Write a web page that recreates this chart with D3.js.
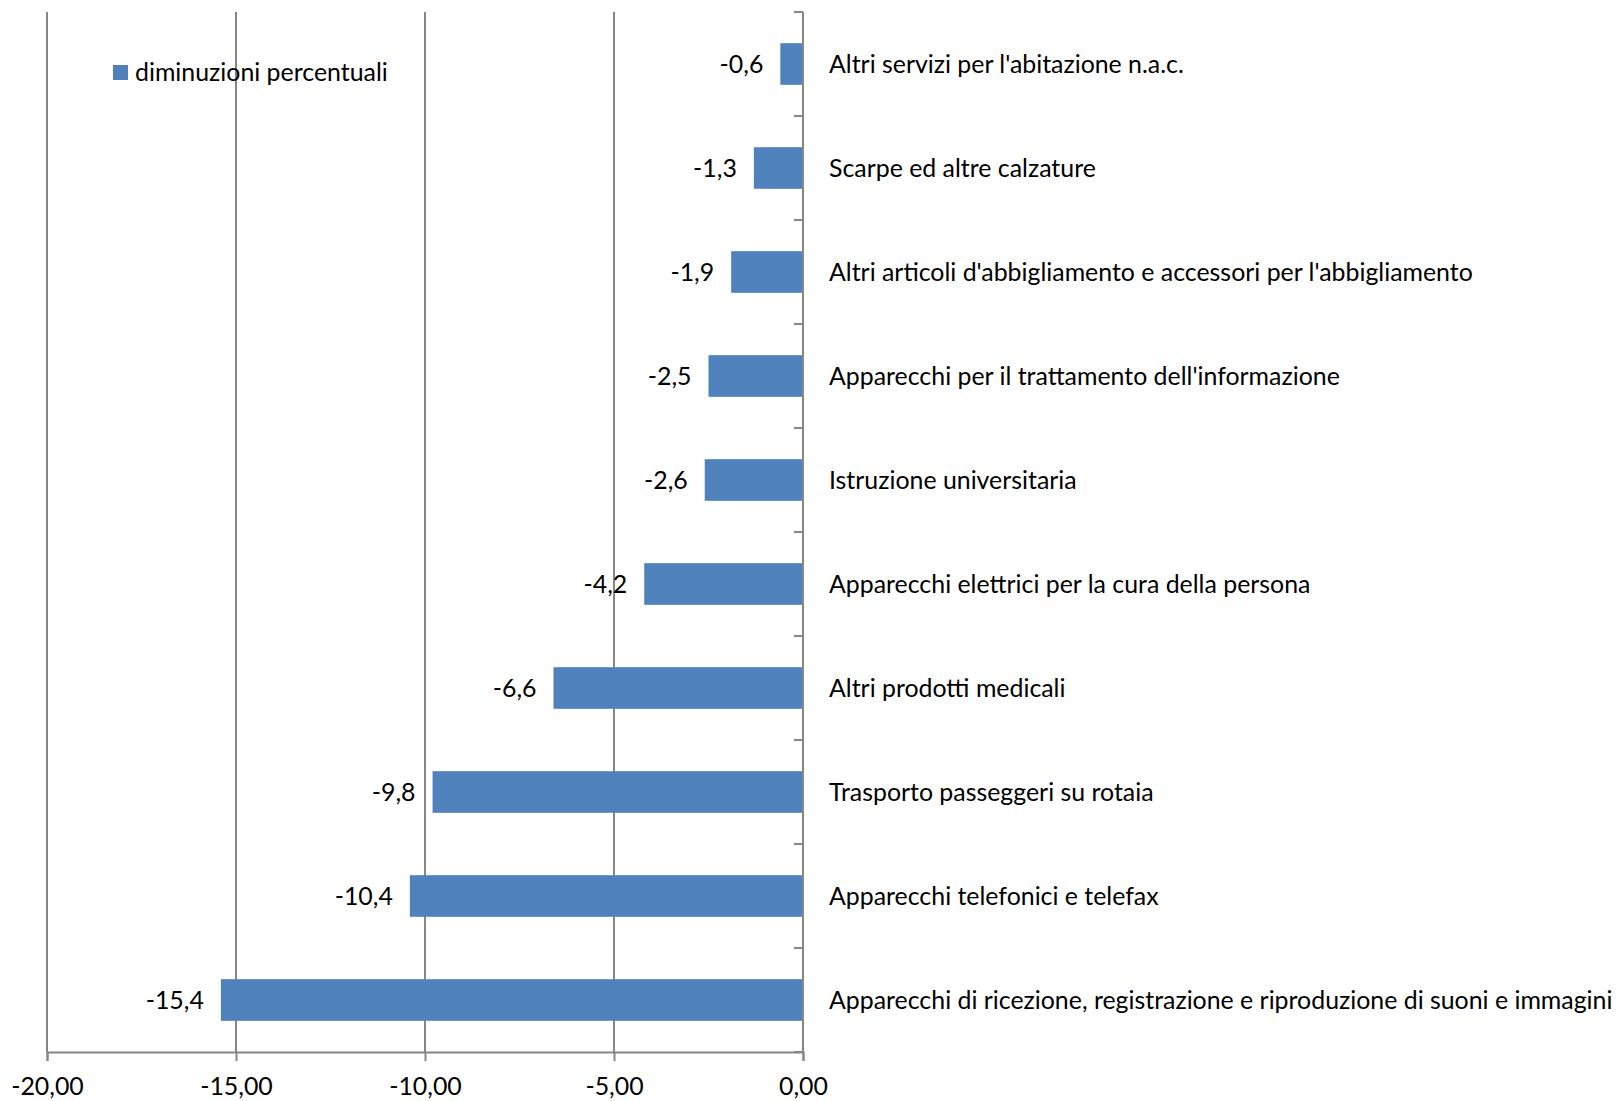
<!DOCTYPE html>
<html>
<head>
<meta charset="utf-8">
<script src="https://cdn.jsdelivr.net/npm/d3@7"></script>
<style>
  html, body { margin: 0; padding: 0; background: #ffffff; }
  svg { display: block; }
</style>
</head>
<body>
<svg id="chart" width="1618" height="1101"></svg>
<script>
// ---- data ----
const categories = [
  "Altri servizi per l'abitazione n.a.c.",
  "Scarpe ed altre calzature",
  "Altri articoli d'abbigliamento e accessori per l'abbigliamento",
  "Apparecchi per il trattamento dell'informazione",
  "Istruzione universitaria",
  "Apparecchi elettrici per la cura della persona",
  "Altri prodotti medicali",
  "Trasporto passeggeri su rotaia",
  "Apparecchi telefonici e telefax",
  "Apparecchi di ricezione, registrazione e riproduzione di suoni e immagini"
];
const values = [-0.6, -1.3, -1.9, -2.5, -2.6, -4.2, -6.6, -9.8, -10.4, -15.4];
const xTicks = [-20, -15, -10, -5, 0];
const seriesName = "diminuzioni percentuali";

(function () {
// ---- setup ----
const svg = d3.select("#chart");
const FONT = "Lato, 'Open Sans', 'Liberation Sans', sans-serif";
const barColor = "#4f81bd";
const gridColor = "#868686";

// measure to emulate Calibri widths
const probe = svg.append("text").attr("font-family", FONT).attr("font-size", 24)
  .text(categories[categories.length - 1]);
const w = probe.node().getComputedTextLength();
probe.remove();
const fs = Math.max(20, Math.min(28, 24 * 784 / w));

const itLocale = d3.formatLocale({decimal: ",", thousands: ".", grouping: [3], currency: ["", "€"], minus: "-"});
const fmtTick = itLocale.format(".2f");
const fmtVal = itLocale.format(".1f");

const x = d3.scaleLinear().domain([-20, 0]).range([47, 803]);
const y = d3.scaleBand().domain(categories).range([12, 1052]).paddingInner(0.6).paddingOuter(0.3);
const step = y.step();
const yTop = y.range()[0], yBottom = y.range()[1];

// gridlines
svg.append("g").selectAll("line").data(xTicks.filter(t => t !== 0)).join("line")
  .attr("x1", d => x(d)).attr("x2", d => x(d))
  .attr("y1", yTop).attr("y2", yBottom)
  .attr("stroke", gridColor).attr("stroke-width", 2);

// bars
svg.append("g").selectAll("rect").data(values).join("rect")
  .attr("x", d => x(d))
  .attr("y", (d, i) => y(categories[i]))
  .attr("width", d => x(0) - x(d))
  .attr("height", y.bandwidth())
  .attr("fill", barColor);

// x axis
const xAxis = d3.axisBottom(x).tickValues(xTicks).tickFormat(fmtTick).tickSize(9).tickPadding(16);
const gx = svg.append("g").attr("transform", `translate(0,${yBottom})`).call(xAxis);
gx.select(".domain").attr("stroke", gridColor).attr("stroke-width", 2);
gx.selectAll(".tick line").attr("stroke", gridColor).attr("stroke-width", 2);
gx.selectAll(".tick text").attr("font-family", FONT).attr("font-size", fs).attr("fill", "#000");

// vertical axis at 0 with boundary ticks
svg.append("line").attr("x1", x(0)).attr("x2", x(0)).attr("y1", yTop).attr("y2", yBottom)
  .attr("stroke", gridColor).attr("stroke-width", 2);
svg.append("g").selectAll("line").data(d3.range(categories.length + 1)).join("line")
  .attr("x1", x(0) - 9).attr("x2", x(0))
  .attr("y1", i => yTop + i * step).attr("y2", i => yTop + i * step)
  .attr("stroke", gridColor).attr("stroke-width", 2);

// category labels
svg.append("g").selectAll("text").data(categories).join("text")
  .attr("x", x(0) + 26)
  .attr("y", d => y(d) + y.bandwidth() / 2)
  .attr("dy", "0.36em")
  .attr("font-family", FONT).attr("font-size", fs).attr("fill", "#000")
  .text(d => d);

// value labels
svg.append("g").selectAll("text").data(values).join("text")
  .attr("x", d => x(d) - 17)
  .attr("y", (d, i) => y(categories[i]) + y.bandwidth() / 2)
  .attr("dy", "0.38em")
  .attr("text-anchor", "end")
  .attr("font-family", FONT).attr("font-size", fs).attr("fill", "#000")
  .text(d => fmtVal(d));

// legend
const lg = svg.append("g").attr("transform", "translate(113,65)");
lg.append("rect").attr("width", 15).attr("height", 15).attr("fill", barColor);
lg.append("text").attr("x", 22).attr("y", 7.5).attr("dy", "0.36em")
  .attr("font-family", FONT).attr("font-size", fs).attr("fill", "#000")
  .text(seriesName);
})();
</script>
</body>
</html>
